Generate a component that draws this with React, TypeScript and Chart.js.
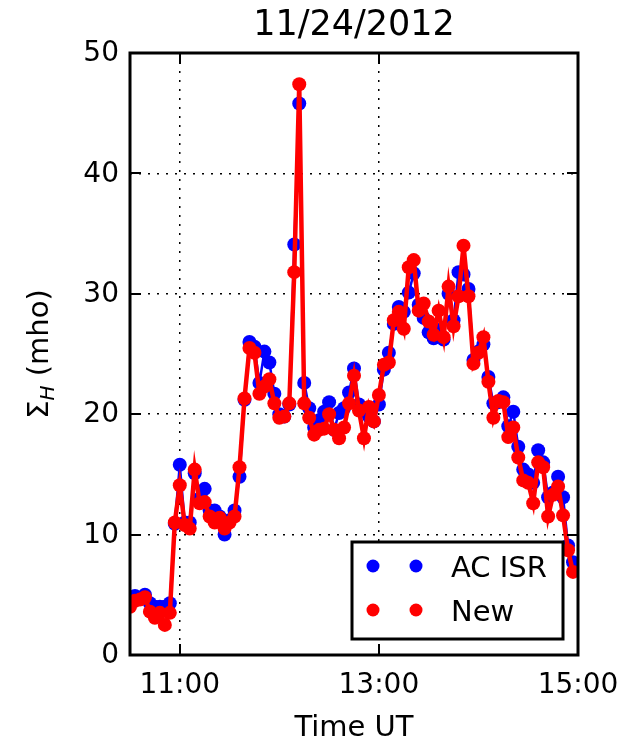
import React, { useEffect, useRef } from "react";
import { Chart, registerables } from "chart.js";

Chart.register(...registerables);

// ---- data ----
const TIMES = [
  "10:30", "10:33", "10:36", "10:39", "10:42", "10:45", "10:48", "10:51", "10:54", "10:57",
  "11:00", "11:03", "11:06", "11:09", "11:12", "11:15", "11:18", "11:21", "11:24", "11:27",
  "11:30", "11:33", "11:36", "11:39", "11:42", "11:45", "11:48", "11:51", "11:54", "11:57",
  "12:00", "12:03", "12:06", "12:09", "12:12", "12:15", "12:18", "12:21", "12:24", "12:27",
  "12:30", "12:33", "12:36", "12:39", "12:42", "12:45", "12:48", "12:51", "12:54", "12:57",
  "13:00", "13:03", "13:06", "13:09", "13:12", "13:15", "13:18", "13:21", "13:24", "13:27",
  "13:30", "13:33", "13:36", "13:39", "13:42", "13:45", "13:48", "13:51", "13:54", "13:57",
  "14:00", "14:03", "14:06", "14:09", "14:12", "14:15", "14:18", "14:21", "14:24", "14:27",
  "14:30", "14:33", "14:36", "14:39", "14:42", "14:45", "14:48", "14:51", "14:54", "14:57",
];

const AC_ISR = [
  4.8, 4.9, 4.7, 5.0, 4.3, 4.0, 4.0, 4.0, 4.3, 10.9,
  15.8, 11.0, 11.0, 15.1, 13.0, 13.8, 12.0, 12.0, 11.5, 10.0,
  11.2, 12.0, 14.8, 21.2, 26.0, 25.6, 22.6, 25.2, 24.3, 21.7,
  20.0, 19.8, 20.8, 34.1, 45.8, 22.6, 20.5, 18.9, 19.5, 20.2,
  21.0, 18.7, 20.1, 20.5, 21.8, 23.8, 20.8, 20.3, 19.8, 19.4,
  20.8, 23.7, 25.1, 27.5, 28.9, 28.5, 30.1, 31.7, 29.1, 28.0,
  26.8, 26.3, 27.0, 26.2, 30.0, 27.8, 31.8, 31.6, 30.4, 24.5,
  25.2, 25.8, 23.1, 20.9, 21.0, 21.4, 19.0, 20.2, 17.3, 15.4,
  15.0, 14.3, 17.0, 16.0, 13.1, 13.5, 14.8, 13.1, 9.1, 7.7,
];

const NEW = [
  4.0, 4.5, 4.6, 4.8, 3.6, 3.1, 3.5, 2.5, 3.5, 11.0,
  14.1, 10.8, 10.5, 15.4, 12.6, 12.7, 11.5, 11.0, 11.4, 10.5,
  11.0, 11.5, 15.6, 21.3, 25.5, 25.1, 21.7, 22.3, 22.9, 20.9,
  19.7, 19.8, 20.9, 31.8, 47.4, 20.9, 19.7, 18.3, 18.7, 18.8,
  20.0, 18.7, 18.0, 18.9, 20.9, 23.2, 20.3, 18.0, 20.6, 19.4,
  21.6, 24.1, 24.3, 27.8, 28.5, 27.1, 32.2, 32.8, 28.6, 29.2,
  27.7, 26.6, 28.6, 26.4, 30.6, 27.3, 29.8, 34.0, 29.8, 24.2,
  25.1, 26.4, 22.7, 19.7, 21.1, 21.0, 18.1, 18.9, 16.4, 14.5,
  14.3, 12.6, 16.0, 15.6, 11.5, 13.3, 14.0, 11.6, 8.7, 6.9,
];

const X_TICKS = [11, 13, 15];
const X_TICK_LABELS = ["11:00", "13:00", "15:00"];
const Y_TICKS = [0, 10, 20, 30, 40, 50];
const Y_TICK_LABELS = ["0", "10", "20", "30", "40", "50"];
const X_MIN = 10.5;
const X_MAX = 15;
const TITLE = "11/24/2012";
const X_LABEL = "Time UT";
const Y_LABEL_MAIN = "\u03A3";
const Y_LABEL_SUB = "H";
const Y_LABEL_REST = " (mho)";
const SERIES_NAMES = ["AC ISR", "New"];
const SERIES_COLORS = ["#0000ff", "#ff0000"];

const FONT = "'DejaVu Sans', 'Liberation Sans', sans-serif";

function toHours(s: string): number {
  const [h, m] = s.split(":").map(Number);
  return h + m / 60;
}

const decorPlugin = {
  id: "decor",
  afterDatasetsDraw(chart: any) {
    const ctx: CanvasRenderingContext2D = chart.ctx;
    const { left, right, top, bottom } = chart.chartArea;
    const xs = chart.scales.x;
    const ys = chart.scales.y;
    ctx.save();

    // inward ticks
    ctx.strokeStyle = "#000";
    ctx.lineWidth = 2;
    const tl = 11;
    ctx.beginPath();
    X_TICKS.forEach((v) => {
      const px = Math.round(xs.getPixelForValue(v));
      ctx.moveTo(px, bottom);
      ctx.lineTo(px, bottom - tl);
      ctx.moveTo(px, top);
      ctx.lineTo(px, top + tl);
    });
    Y_TICKS.forEach((v) => {
      const py = Math.round(ys.getPixelForValue(v));
      ctx.moveTo(left, py);
      ctx.lineTo(left + tl, py);
      ctx.moveTo(right, py);
      ctx.lineTo(right - tl, py);
    });
    ctx.stroke();

    // frame
    ctx.lineWidth = 3;
    ctx.strokeRect(left, top, right - left, bottom - top);

    // tick labels
    ctx.fillStyle = "#000";
    ctx.font = `28px ${FONT}`;
    ctx.textAlign = "right";
    ctx.textBaseline = "middle";
    Y_TICKS.forEach((v, i) => {
      ctx.fillText(Y_TICK_LABELS[i], left - 11, ys.getPixelForValue(v) + 1);
    });
    ctx.textAlign = "center";
    ctx.textBaseline = "alphabetic";
    X_TICKS.forEach((v, i) => {
      ctx.fillText(X_TICK_LABELS[i], xs.getPixelForValue(v), bottom + 38);
    });

    // title
    const cx = (left + right) / 2;
    ctx.font = `35px ${FONT}`;
    ctx.fillText(TITLE, cx, top - 18);

    // x label
    ctx.font = `29px ${FONT}`;
    ctx.fillText(X_LABEL, cx, 736);

    // y label
    ctx.save();
    ctx.translate(48, (top + bottom) / 2);
    ctx.rotate(-Math.PI / 2);
    ctx.textAlign = "left";
    const mainFont = `29px ${FONT}`;
    const subFont = `italic 20px ${FONT}`;
    ctx.font = mainFont;
    const w1 = ctx.measureText(Y_LABEL_MAIN).width;
    const w3 = ctx.measureText(Y_LABEL_REST).width;
    ctx.font = subFont;
    const w2 = ctx.measureText(Y_LABEL_SUB).width;
    let x0 = -(w1 + w2 + w3) / 2;
    ctx.font = mainFont;
    ctx.fillText(Y_LABEL_MAIN, x0, 0);
    x0 += w1;
    ctx.font = subFont;
    ctx.fillText(Y_LABEL_SUB, x0, 6);
    x0 += w2;
    ctx.font = mainFont;
    ctx.fillText(Y_LABEL_REST, x0, 0);
    ctx.restore();

    // legend
    const lw = 211;
    const lh = 97;
    const lx = right - 15 - lw;
    const ly = bottom - 16 - lh;
    ctx.fillStyle = "#fff";
    ctx.fillRect(lx, ly, lw, lh);
    ctx.lineWidth = 3;
    ctx.strokeStyle = "#000";
    ctx.strokeRect(lx, ly, lw, lh);
    ctx.font = `29px ${FONT}`;
    ctx.textAlign = "left";
    SERIES_NAMES.forEach((name, i) => {
      const yy = ly + 24 + i * 44;
      ctx.fillStyle = SERIES_COLORS[i];
      [21, 64].forEach((dx) => {
        ctx.beginPath();
        ctx.arc(lx + dx, yy, 6.5, 0, Math.PI * 2);
        ctx.fill();
      });
      ctx.fillStyle = "#000";
      ctx.fillText(name, lx + 99, yy + 11);
    });

    ctx.restore();
  },
};

export default function App() {
  const ref = useRef<HTMLCanvasElement | null>(null);

  useEffect(() => {
    if (!ref.current) return;
    const xs = TIMES.map(toHours);
    const chart = new Chart(ref.current, {
      type: "line",
      data: {
        datasets: [
          {
            label: SERIES_NAMES[0],
            data: xs.map((x, i) => ({ x, y: AC_ISR[i] })),
            borderColor: SERIES_COLORS[0],
            backgroundColor: SERIES_COLORS[0],
            borderWidth: 2.5,
            pointRadius: 7,
            pointBorderWidth: 0,
            pointBackgroundColor: SERIES_COLORS[0],
            tension: 0,
            clip: 0,
            order: 2,
          },
          {
            label: SERIES_NAMES[1],
            data: xs.map((x, i) => ({ x, y: NEW[i] })),
            borderColor: SERIES_COLORS[1],
            backgroundColor: SERIES_COLORS[1],
            borderWidth: 4.5,
            pointRadius: 7,
            pointBorderWidth: 0,
            pointBackgroundColor: SERIES_COLORS[1],
            tension: 0,
            clip: 0,
            order: 1,
          },
        ],
      },
      options: {
        animation: false,
        responsive: false,
        devicePixelRatio: 1,
        layout: { padding: { top: 53, right: 51, left: 0, bottom: 0 } },
        plugins: {
          legend: { display: false },
          tooltip: { enabled: false },
          title: { display: false },
        },
        scales: {
          x: {
            type: "linear",
            min: X_MIN,
            max: X_MAX,
            afterBuildTicks: (s: any) => {
              s.ticks = X_TICKS.map((v) => ({ value: v }));
            },
            afterFit: (s: any) => {
              s.height = 91;
            },
            ticks: { display: false },
            grid: { color: "#000", lineWidth: 1.5, drawTicks: false, tickLength: 0 },
            border: { display: false, dash: [2, 7] },
          },
          y: {
            type: "linear",
            min: 0,
            max: 50,
            afterBuildTicks: (s: any) => {
              s.ticks = Y_TICKS.map((v) => ({ value: v }));
            },
            afterFit: (s: any) => {
              s.width = 130;
            },
            ticks: { display: false },
            grid: { color: "#000", lineWidth: 1.5, drawTicks: false, tickLength: 0 },
            border: { display: false, dash: [2, 7] },
          },
        },
      },
      plugins: [decorPlugin],
    });
    return () => chart.destroy();
  }, []);

  return (
    <div style={{ position: "absolute", left: 0, top: 0, width: 629, height: 746, background: "#fff" }}>
      <canvas ref={ref} width={629} height={746} style={{ display: "block", width: 629, height: 746 }} />
    </div>
  );
}
